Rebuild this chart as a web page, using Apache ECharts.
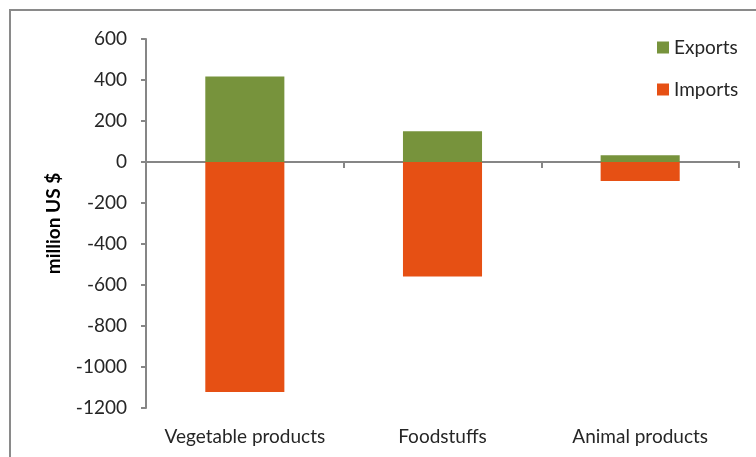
<!DOCTYPE html>
<html>
<head>
<meta charset="utf-8">
<title>Trade balance by product group</title>
<script src="https://cdn.jsdelivr.net/npm/echarts@6/dist/echarts.min.js"></script>
<style>
  html, body { margin: 0; padding: 0; background: #ffffff; }
  #chart { width: 756px; height: 457px; }
</style>
</head>
<body>
<div id="chart"></div>
<script>
// Product groups along the horizontal axis
const categories = ['Vegetable products', 'Foodstuffs', 'Animal products'];
// Trade flows in million US $ (imports shown as negative)
const exportsValues = [417, 150, 33];
const importsValues = [-1122, -558, -93];
// Value axis range and step
const yMin = -1200;
const yMax = 600;
const yStep = 200;

const FONT = 'Lato, "Open Sans", sans-serif';
const AXIS_GREY = '#868686';
const TEXT = '#262626';

const chart = echarts.init(document.getElementById('chart'), null, { renderer: 'canvas' });

chart.setOption({
  animation: false,
  backgroundColor: '#ffffff',
  graphic: [{
    type: 'rect',
    shape: { x: 10, y: 10, width: 800, height: 500 },
    style: { fill: 'none', stroke: '#8a8a8a', lineWidth: 2 },
    silent: true,
    z: -10
  }],
  legend: {
    orient: 'vertical',
    left: 657,
    top: 38,
    itemWidth: 12,
    itemHeight: 12,
    itemGap: 23,
    icon: 'rect',
    padding: 0,
    textStyle: { fontFamily: FONT, fontSize: 19, color: TEXT },
    data: ['Exports', 'Imports']
  },
  grid: { left: 146, top: 39, right: 17, bottom: 49, containLabel: false },
  xAxis: [{
    // zero line with boundary ticks
    type: 'category',
    data: categories,
    axisLine: { onZero: true, lineStyle: { color: AXIS_GREY, width: 2 } },
    axisTick: { show: true, length: 6, alignWithLabel: false, lineStyle: { color: AXIS_GREY, width: 2 } },
    axisLabel: { show: false },
    splitLine: { show: false }
  }, {
    // category names along the bottom of the plot
    type: 'category',
    data: categories,
    position: 'bottom',
    axisLine: { show: false, onZero: false },
    axisTick: { show: false },
    axisLabel: { show: true, margin: 19, fontFamily: FONT, fontSize: 19, color: TEXT, interval: 0 },
    splitLine: { show: false }
  }],
  yAxis: {
    type: 'value',
    min: yMin,
    max: yMax,
    interval: yStep,
    name: 'million US $',
    nameLocation: 'middle',
    nameRotate: 90,
    nameGap: 83,
    nameTextStyle: { fontFamily: FONT, fontSize: 19, fontWeight: 'bold', color: '#000000' },
    axisLine: { show: true, lineStyle: { color: AXIS_GREY, width: 2 } },
    axisTick: { show: true, length: 5, lineStyle: { color: AXIS_GREY, width: 2 } },
    axisLabel: {
      margin: 19, fontFamily: FONT, fontSize: 19, color: TEXT,
      formatter: function (v) { return String(v); }
    },
    splitLine: { show: false }
  },
  series: [{
    name: 'Exports',
    type: 'bar',
    stack: 'trade',
    xAxisIndex: 0,
    barCategoryGap: '60%',
    itemStyle: { color: '#77933C' },
    data: exportsValues
  }, {
    name: 'Imports',
    type: 'bar',
    stack: 'trade',
    xAxisIndex: 0,
    barCategoryGap: '60%',
    itemStyle: { color: '#E65014' },
    data: importsValues
  }]
});
</script>
</body>
</html>
